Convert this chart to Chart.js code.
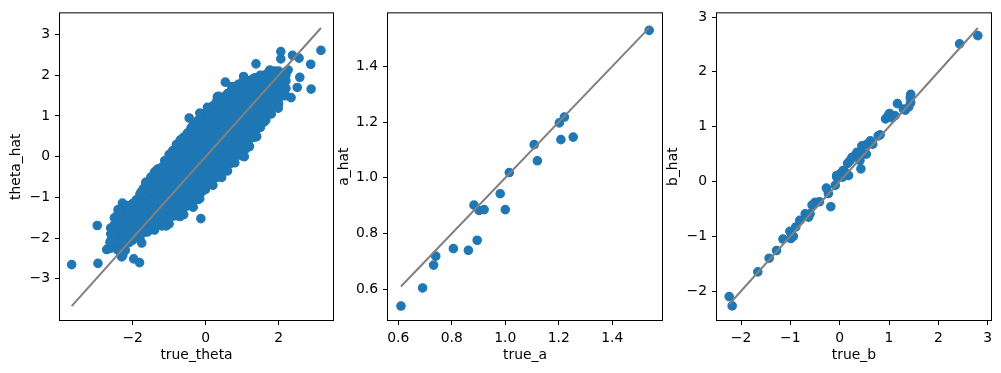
<!DOCTYPE html>
<html>
<head>
<meta charset="utf-8">
<script src="https://cdn.jsdelivr.net/npm/chart.js@4"></script>
<style>
  body { margin: 0; background: #fff; }
  canvas { position: absolute; left: 0; top: 0; }
</style>
</head>
<body>
<canvas id="thetaChart" width="1001" height="373"></canvas>
<canvas id="aChart" width="1001" height="373"></canvas>
<canvas id="bChart" width="1001" height="373"></canvas>
<script>
"use strict"

// [true_theta, theta_hat] - dense core read column by column, then the stray points
const thetaPoints = [
    [-2.6,-2.25],[-2.6,-2.07],[-2.6,-1.9],[-2.6,-1.75],
    [-2.5,-2.21],[-2.5,-2.03],[-2.5,-1.85],[-2.5,-1.67],[-2.5,-1.5],
    [-2.4,-2.3],[-2.4,-2.12],[-2.4,-1.94],[-2.4,-1.76],[-2.4,-1.58],[-2.4,-1.4],[-2.4,-1.3],
    [-2.3,-2.26],[-2.3,-2.08],[-2.3,-1.9],[-2.3,-1.72],[-2.3,-1.54],[-2.3,-1.36],[-2.3,-1.25],
    [-2.2,-2.3],[-2.2,-2.12],[-2.2,-1.94],[-2.2,-1.76],[-2.2,-1.58],[-2.2,-1.4],[-2.2,-1.22],
    [-2.1,-2.11],[-2.1,-1.93],[-2.1,-1.75],[-2.1,-1.57],[-2.1,-1.39],[-2.1,-1.21],
    [-2.0,-2.05],[-2.0,-1.87],[-2.0,-1.69],[-2.0,-1.51],[-2.0,-1.33],[-2.0,-1.15],
    [-1.9,-1.96],[-1.9,-1.78],[-1.9,-1.6],[-1.9,-1.42],[-1.9,-1.24],[-1.9,-1.06],
    [-1.8,-2.0],[-1.8,-1.82],[-1.8,-1.64],[-1.8,-1.46],[-1.8,-1.28],[-1.8,-1.1],[-1.8,-0.92],
    [-1.7,-1.86],[-1.7,-1.68],[-1.7,-1.5],[-1.7,-1.32],[-1.7,-1.14],[-1.7,-0.96],[-1.7,-0.78],
    [-1.6,-1.85],[-1.6,-1.67],[-1.6,-1.49],[-1.6,-1.31],[-1.6,-1.13],[-1.6,-0.95],[-1.6,-0.77],[-1.6,-0.62],
    [-1.5,-1.76],[-1.5,-1.58],[-1.5,-1.4],[-1.5,-1.22],[-1.5,-1.04],[-1.5,-0.86],[-1.5,-0.68],[-1.5,-0.5],
    [-1.4,-1.8],[-1.4,-1.62],[-1.4,-1.44],[-1.4,-1.26],[-1.4,-1.08],[-1.4,-0.9],[-1.4,-0.72],[-1.4,-0.54],[-1.4,-0.38],
    [-1.3,-1.66],[-1.3,-1.48],[-1.3,-1.3],[-1.3,-1.12],[-1.3,-0.94],[-1.3,-0.76],[-1.3,-0.58],[-1.3,-0.4],[-1.3,-0.3],
    [-1.2,-1.7],[-1.2,-1.52],[-1.2,-1.34],[-1.2,-1.16],[-1.2,-0.98],[-1.2,-0.8],[-1.2,-0.62],[-1.2,-0.44],[-1.2,-0.26],
    [-1.1,-1.61],[-1.1,-1.43],[-1.1,-1.25],[-1.1,-1.07],[-1.1,-0.89],[-1.1,-0.71],[-1.1,-0.53],[-1.1,-0.35],[-1.1,-0.17],[-1.1,-0.1],
    [-1.0,-1.65],[-1.0,-1.47],[-1.0,-1.29],[-1.0,-1.11],[-1.0,-0.93],[-1.0,-0.75],[-1.0,-0.57],[-1.0,-0.39],[-1.0,-0.21],[-1.0,-0.03],[-1.0,0.05],
    [-0.9,-1.46],[-0.9,-1.28],[-0.9,-1.1],[-0.9,-0.92],[-0.9,-0.74],[-0.9,-0.56],[-0.9,-0.38],[-0.9,-0.2],[-0.9,-0.02],[-0.9,0.15],
    [-0.8,-1.45],[-0.8,-1.27],[-0.8,-1.09],[-0.8,-0.91],[-0.8,-0.73],[-0.8,-0.55],[-0.8,-0.37],[-0.8,-0.19],[-0.8,-0.01],[-0.8,0.17],[-0.8,0.3],
    [-0.7,-1.36],[-0.7,-1.18],[-0.7,-1.0],[-0.7,-0.82],[-0.7,-0.64],[-0.7,-0.46],[-0.7,-0.28],[-0.7,-0.1],[-0.7,0.08],[-0.7,0.26],[-0.7,0.4],
    [-0.6,-1.42],[-0.6,-1.24],[-0.6,-1.06],[-0.6,-0.88],[-0.6,-0.7],[-0.6,-0.52],[-0.6,-0.34],[-0.6,-0.16],[-0.6,0.02],[-0.6,0.2],[-0.6,0.38],[-0.6,0.48],
    [-0.5,-1.21],[-0.5,-1.03],[-0.5,-0.85],[-0.5,-0.67],[-0.5,-0.49],[-0.5,-0.31],[-0.5,-0.13],[-0.5,0.05],[-0.5,0.23],[-0.5,0.41],[-0.5,0.58],
    [-0.4,-1.2],[-0.4,-1.02],[-0.4,-0.84],[-0.4,-0.66],[-0.4,-0.48],[-0.4,-0.3],[-0.4,-0.12],[-0.4,0.06],[-0.4,0.24],[-0.4,0.42],[-0.4,0.6],[-0.4,0.7],
    [-0.3,-1.06],[-0.3,-0.88],[-0.3,-0.7],[-0.3,-0.52],[-0.3,-0.34],[-0.3,-0.16],[-0.3,0.02],[-0.3,0.2],[-0.3,0.38],[-0.3,0.56],[-0.3,0.74],[-0.3,0.8],
    [-0.2,-1.05],[-0.2,-0.87],[-0.2,-0.69],[-0.2,-0.51],[-0.2,-0.33],[-0.2,-0.15],[-0.2,0.03],[-0.2,0.21],[-0.2,0.39],[-0.2,0.57],[-0.2,0.75],[-0.2,0.9],
    [-0.1,-0.86],[-0.1,-0.68],[-0.1,-0.5],[-0.1,-0.32],[-0.1,-0.14],[-0.1,0.04],[-0.1,0.22],[-0.1,0.4],[-0.1,0.58],[-0.1,0.76],[-0.1,0.94],
    [0.0,-0.8],[0.0,-0.62],[0.0,-0.44],[0.0,-0.26],[0.0,-0.08],[0.0,0.1],[0.0,0.28],[0.0,0.46],[0.0,0.64],[0.0,0.82],[0.0,1.0],[0.0,1.08],
    [0.1,-0.66],[0.1,-0.48],[0.1,-0.3],[0.1,-0.12],[0.1,0.06],[0.1,0.24],[0.1,0.42],[0.1,0.6],[0.1,0.78],[0.1,0.96],[0.1,1.14],
    [0.2,-0.7],[0.2,-0.52],[0.2,-0.34],[0.2,-0.16],[0.2,0.02],[0.2,0.2],[0.2,0.38],[0.2,0.56],[0.2,0.74],[0.2,0.92],[0.2,1.1],[0.2,1.25],
    [0.3,-0.51],[0.3,-0.33],[0.3,-0.15],[0.3,0.03],[0.3,0.21],[0.3,0.39],[0.3,0.57],[0.3,0.75],[0.3,0.93],[0.3,1.11],[0.3,1.29],[0.3,1.35],
    [0.4,-0.45],[0.4,-0.27],[0.4,-0.09],[0.4,0.09],[0.4,0.27],[0.4,0.45],[0.4,0.63],[0.4,0.81],[0.4,0.99],[0.4,1.17],[0.4,1.35],[0.4,1.42],
    [0.5,-0.33],[0.5,-0.15],[0.5,0.03],[0.5,0.21],[0.5,0.39],[0.5,0.57],[0.5,0.75],[0.5,0.93],[0.5,1.11],[0.5,1.29],[0.5,1.47],
    [0.6,-0.35],[0.6,-0.17],[0.6,0.01],[0.6,0.19],[0.6,0.37],[0.6,0.55],[0.6,0.73],[0.6,0.91],[0.6,1.09],[0.6,1.27],[0.6,1.45],[0.6,1.55],
    [0.7,-0.16],[0.7,0.02],[0.7,0.2],[0.7,0.38],[0.7,0.56],[0.7,0.74],[0.7,0.92],[0.7,1.1],[0.7,1.28],[0.7,1.46],[0.7,1.62],
    [0.8,-0.15],[0.8,0.03],[0.8,0.21],[0.8,0.39],[0.8,0.57],[0.8,0.75],[0.8,0.93],[0.8,1.11],[0.8,1.29],[0.8,1.47],[0.8,1.65],[0.8,1.7],
    [0.9,0.04],[0.9,0.22],[0.9,0.4],[0.9,0.58],[0.9,0.76],[0.9,0.94],[0.9,1.12],[0.9,1.3],[0.9,1.48],[0.9,1.66],[0.9,1.78],
    [1.0,0.02],[1.0,0.2],[1.0,0.38],[1.0,0.56],[1.0,0.74],[1.0,0.92],[1.0,1.1],[1.0,1.28],[1.0,1.46],[1.0,1.64],[1.0,1.82],
    [1.1,0.19],[1.1,0.37],[1.1,0.55],[1.1,0.73],[1.1,0.91],[1.1,1.09],[1.1,1.27],[1.1,1.45],[1.1,1.63],[1.1,1.81],
    [1.2,0.25],[1.2,0.43],[1.2,0.61],[1.2,0.79],[1.2,0.97],[1.2,1.15],[1.2,1.33],[1.2,1.51],[1.2,1.69],[1.2,1.87],
    [1.3,0.47],[1.3,0.65],[1.3,0.83],[1.3,1.01],[1.3,1.19],[1.3,1.37],[1.3,1.55],[1.3,1.73],[1.3,1.91],
    [1.4,0.5],[1.4,0.68],[1.4,0.86],[1.4,1.04],[1.4,1.22],[1.4,1.4],[1.4,1.58],[1.4,1.76],[1.4,1.94],
    [1.5,0.74],[1.5,0.92],[1.5,1.1],[1.5,1.28],[1.5,1.46],[1.5,1.64],[1.5,1.82],[1.5,2.0],
    [1.6,0.85],[1.6,1.03],[1.6,1.21],[1.6,1.39],[1.6,1.57],[1.6,1.75],[1.6,1.93],[1.6,2.0],
    [1.7,1.04],[1.7,1.22],[1.7,1.4],[1.7,1.58],[1.7,1.76],[1.7,1.94],[1.7,2.05],
    [1.8,1.05],[1.8,1.23],[1.8,1.41],[1.8,1.59],[1.8,1.77],[1.8,1.95],[1.8,2.05],
    [1.9,1.24],[1.9,1.42],[1.9,1.6],[1.9,1.78],[1.9,1.96],[1.9,2.1],
    [2.0,1.3],[2.0,1.48],[2.0,1.66],[2.0,1.84],[2.0,2.02],[2.0,2.1],
    [2.1,1.49],[2.1,1.67],[2.1,1.85],[2.1,2.03],
    [2.2,1.5],[2.2,1.68],[2.2,1.86],[2.2,2.0],
    // stray points
    [-3.67,-2.65],[-2.97,-1.69],[-2.95,-2.62],[-2.71,-2.28],[-2.68,-2.26],[-2.62,-2.1],
    [-2.53,-2.05],[-2.51,-1.85],[-2.49,-1.87],[-2.3,-2.46],[-2.27,-2.42],[-2.28,-1.14],
    [-2.16,-1.2],[-2.35,-1.36],[-1.97,-2.51],[-1.81,-2.6],[-1.75,-2.12],[-1.89,-1.89],
    [-1.64,-0.63],[-1.76,-0.86],[-1.94,-1.12],[-1.55,-1.81],[-1.34,-0.33],[-1.12,-0.1],
    [-1.08,-1.7],[-1.1,-1.69],[-0.7,-1.47],[-0.34,-1.24],[-0.13,-1.52],[-0.16,-1.03],
    [-0.66,0.43],[-0.45,0.95],[-0.37,0.74],[-0.16,1.07],[0.05,1.21],[0.07,1.19],
    [0.32,1.47],[0.35,1.48],[0.54,1.83],[0.72,1.72],[0.8,1.48],[1.04,1.97],
    [1.38,2.28],[1.35,1.94],[1.76,2.13],[1.85,2.05],[2.06,2.58],[2.06,2.4],
    [2.13,1.98],[2.26,2.13],[2.2,2.09],[2.38,2.49],[2.56,2.42],[2.58,1.95],
    [2.51,1.7],[2.34,1.45],[2.88,2.27],[2.89,1.66],[3.16,2.61],[1.99,1.19],
    [1.65,0.9],[1.5,0.72],[1.38,0.49],[1.22,0.46],[1.1,0.27],[1.06,0.0],[0.44,-0.51]
];

// [true_a, a_hat]
const aPoints = [
    [0.61,0.54],[0.691,0.605],[0.732,0.687],[0.74,0.719],[0.806,0.746],[0.862,0.74],
    [0.895,0.776],[0.883,0.902],[0.902,0.883],[0.921,0.886],[1.0,0.886],[0.981,0.943],
    [1.015,1.019],[1.108,1.119],[1.12,1.061],[1.202,1.197],[1.221,1.218],[1.208,1.137],
    [1.254,1.146],[1.538,1.529]
];

// [true_b, b_hat]
const bPoints = [
    [-2.24,-2.1],[-2.18,-2.27],[-1.66,-1.65],[-1.43,-1.4],[-1.28,-1.26],[-1.15,-1.05],
    [-1.01,-0.91],[-0.99,-1.04],[-0.94,-1.0],[-0.89,-0.83],[-0.81,-0.71],[-0.7,-0.59],
    [-0.63,-0.65],[-0.6,-0.59],[-0.56,-0.43],[-0.5,-0.38],[-0.41,-0.37],[-0.27,-0.12],
    [-0.23,-0.22],[-0.18,-0.46],[-0.09,-0.07],[-0.06,0.08],[-0.06,0.11],[0.01,0.14],
    [0.07,0.2],[0.06,0.08],[0.11,0.17],[0.18,0.11],[0.16,0.33],[0.21,0.38],[0.25,0.44],
    [0.33,0.49],[0.35,0.53],[0.4,0.53],[0.41,0.38],[0.43,0.23],[0.45,0.65],[0.49,0.5],
    [0.54,0.5],[0.55,0.68],[0.62,0.74],[0.67,0.68],[0.78,0.83],[0.82,0.85],[0.93,1.14],
    [0.98,1.2],[1.01,1.24],[1.06,1.16],[1.12,1.2],[1.17,1.42],[1.29,1.32],[1.33,1.3],
    [1.4,1.36],[1.43,1.53],[1.44,1.59],[1.44,1.44],[2.43,2.51],[2.8,2.66]
];

const thetaTicksX = [-2, 0, 2];
const thetaTicksY = [-3, -2, -1, 0, 1, 2, 3];
const aTicks = [0.6, 0.8, 1.0, 1.2, 1.4];
const bTicks = [-2, -1, 0, 1, 2, 3];

Chart.defaults.font.family = 'DejaVu Sans';
Chart.defaults.font.size = 13.9;
Chart.defaults.color = '#000';

const Y_AXIS_W = 60;
const X_AXIS_H = 53;

// box around the plot area like matplotlib spines
const framePlugin = {
    id: 'frame',
    afterDraw(chart) {
        const ctx = chart.ctx;
        const a = chart.chartArea;
        ctx.save();
        ctx.strokeStyle = '#000';
        ctx.lineWidth = 1;
        ctx.strokeRect(a.left - 0.5, a.top - 0.5, a.right - a.left + 1, a.bottom - a.top + 1);
        ctx.restore();
    }
};

function fmt(v, dec) {
    return v.toFixed(dec).replace('-', '\u2212');
}

function axis(cfg, horizontal) {
    const ticks = horizontal ? cfg.xTicks : cfg.yTicks;
    return {
        type: 'linear',
        min: horizontal ? cfg.xRange[0] : cfg.yRange[0],
        max: horizontal ? cfg.xRange[1] : cfg.yRange[1],
        afterBuildTicks: s => { s.ticks = ticks.map(v => ({value: v})); },
        afterFit: s => {
            if (horizontal) s.height = X_AXIS_H;
            else s.width = Y_AXIS_W;
        },
        ticks: {
            callback: v => fmt(v, cfg.dec),
            color: '#000',
            padding: 5,
            maxRotation: 0,
            autoSkip: false
        },
        grid: {
            drawOnChartArea: false,
            drawTicks: true,
            tickLength: 5,
            tickColor: '#000',
            tickWidth: 1
        },
        border: { display: false },
        title: {
            display: true,
            text: horizontal ? cfg.xTitle : cfg.yTitle,
            color: '#000',
            padding: horizontal ? {top: 0, bottom: 9.5} : {top: 8.5, bottom: 0}
        }
    };
}

function makePanel(id, points, cfg) {
    const xs = points.map(p => p[0]);
    const lo = Math.min(...xs);
    const hi = Math.max(...xs);
    return new Chart(document.getElementById(id), {
        type: 'scatter',
        data: {
            datasets: [{
                // the y = x reference line, first so it lands over the points
                data: [{x: lo, y: lo}, {x: hi, y: hi}],
                showLine: true,
                borderColor: '#808080',
                borderWidth: 2,
                pointRadius: 0,
                fill: false
            }, {
                data: points.map(p => ({x: p[0], y: p[1]})),
                backgroundColor: '#1f77b4',
                borderColor: '#1f77b4',
                borderWidth: 1.2,
                pointRadius: 4.2
            }]
        },
        options: {
            responsive: false,
            animation: false,
            devicePixelRatio: 1,
            layout: {
                padding: {
                    left: cfg.area[0] - Y_AXIS_W,
                    right: 1001 - cfg.area[1],
                    top: cfg.area[2],
                    bottom: 0
                }
            },
            scales: {
                x: axis(cfg, true),
                y: axis(cfg, false)
            },
            plugins: {
                legend: { display: false },
                tooltip: { enabled: false }
            }
        },
        plugins: [framePlugin]
    });
}

makePanel('thetaChart', thetaPoints, {
    area: [60, 333, 12],
    xRange: [-3.99, 3.49], yRange: [-4.01, 3.52],
    xTicks: thetaTicksX, yTicks: thetaTicksY, dec: 0,
    xTitle: 'true_theta', yTitle: 'theta_hat'
});

makePanel('aChart', aPoints, {
    area: [388, 662, 12],
    xRange: [0.5615, 1.586], yRange: [0.49, 1.59],
    xTicks: aTicks, yTicks: aTicks, dec: 1,
    xTitle: 'true_a', yTitle: 'a_hat'
});

makePanel('bChart', bPoints, {
    area: [717, 991, 12],
    xRange: [-2.487, 3.067], yRange: [-2.527, 3.067],
    xTicks: bTicks, yTicks: bTicks, dec: 0,
    xTitle: 'true_b', yTitle: 'b_hat'
});
</script>
</body>
</html>
